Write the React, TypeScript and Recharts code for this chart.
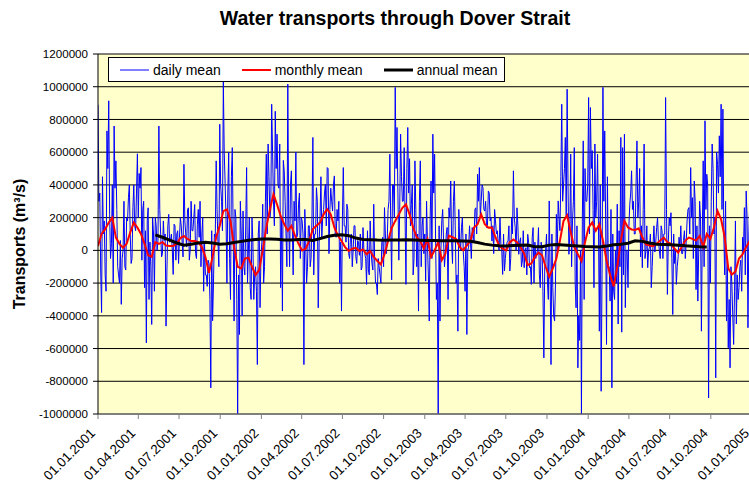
import React from 'react';
import { LineChart, Line, XAxis, YAxis, CartesianGrid } from 'recharts';

const chartTitle = 'Water transports through Dover Strait';
const yAxisTitle = 'Transports (m³/s)';

// x axis: days since 01.01.2001, quarterly ticks
const quarterDays = [0, 90, 181, 273, 365, 455, 546, 638, 730, 820, 911, 1003, 1095, 1186, 1277, 1369, 1461];
const quarterLabels = [
  '01.01.2001', '01.04.2001', '01.07.2001', '01.10.2001',
  '01.01.2002', '01.04.2002', '01.07.2002', '01.10.2002',
  '01.01.2003', '01.04.2003', '01.07.2003', '01.10.2003',
  '01.01.2004', '01.04.2004', '01.07.2004', '01.10.2004',
  '01.01.2005',
];
const yTicks = [-1000000, -800000, -600000, -400000, -200000, 0, 200000, 400000, 600000, 800000, 1000000, 1200000];

// values in thousands of m3/s
// daily mean, days 0, 4, 8, ...
const dailyStepDays = 4;
const dailyMean = [
  890, 350, -380, 100, -150, 730, 914, -50, 400, 760, 547, -100, -200, -330, 0, -100, 200, 322, 100, -50,
  400, 120, 590, 470, 506, 250, -228, -565, 260, 50, -453, 100, 200, 0, 760, 100, -20, 60, -463, 150,
  50, 100, -147, 150, 100, -80, 200, 50, 526, 100, 250, -60, 300, 120, 280, -50, 250, 300, 100, -250,
  -150, -220, -80, -840, -430, 100, 547, 50, 771, 300, 1030, 410, -200, 600, -300, 628, -432, 200, -1000, -514,
  100, 240, -150, 506, 0, -228, 200, -300, -100, -698, 180, -50, 282, -100, 588, 650, 200, 893, 300, 850,
  710, 380, -228, -371, 486, 100, 1016, -100, 486, -150, 180, 80, 282, -50, 180, -698, 50, -100, 150, -50,
  690, 100, 383, -351, 200, 80, 250, 404, 506, -20, 380, 240, 455, 80, 180, -200, -371, 506, 150, 282,
  -20, 80, -100, 150, -40, 60, -30, -120, 139, -20, -208, -120, 180, -80, 282, -200, -270, -100, -200, 80,
  261, -20, 250, 588, -180, 400, 996, 751, -60, 710, 300, 628, -208, 751, 560, 280, -150, 547, -100, -371,
  547, 150, -20, -188, 40, -432, 424, 710, 588, -300, -1000, -432, 180, 60, -20, 140, 260, 424, -80, 424,
  -200, -494, 50, 139, -10, -250, -514, 20, 57, 139, 57, 260, 465, 506, 300, 383, 240, 139, 363, 180,
  57, -20, 180, 120, 0, 37, -147, -126, 16, 57, -126, 200, 486, 139, 260, -24, 77, -65, -106, 16,
  98, -106, -208, 139, 50, -20, 139, -228, 0, -657, 0, -188, 302, -698, -228, -432, 220, 302, 120, 893,
  400, 690, 985, -24, 588, 180, 628, -351, -718, -550, -1000, 669, 500, 300, 934, 873, 610, -228, 200, 588,
  -494, -861, 996, 730, -575, -106, -310, -840, -250, 0, 282, 120, 690, 628, 710, 0, -228, 282, 486, 300,
  100, 669, 300, -40, -106, 650, 0, -106, 20, -228, 40, -10, 139, 60, -50, 120, 100, 934, -269, 200,
  230, -392, -80, -208, -40, 20, -20, 60, -50, 180, 261, 506, 322, 424, -240, -310, 300, -494, 547, 792,
  465, -902, -200, 650, 100, -779, 526, 700, 893, 863, -150, -432, -595, -718, -200, -575, 180, -150, -228, -60,
  80, 261, 363, -473, 300, 100,
];
// daily mean, days 2, 6, 10, ...
const dailyMidOffset = 2;
const dailyMeanMid = [
  300, -120, 450, 180, -250, 500, 220, 40, -200, 380, 250, -150, 60, -50, 300, -120, 180, 400, -80, 260, 150, 350, 200,
  380, -60, 300, 120, 180, -300, -100, 200, -250, 150, 60, 250, -40, 180, 100, -120, 220, 60, 0, 160, -60, 120, 80,
  150, -40, 180, 20, 260, 0, 120, 200, -20, 160, 80, -100, 200, 40, -150, -60, -300, 120, -200, 80, 250, -100,
  400, 120, 600, 200, 350, -50, 450, 100, 250, -300, -150, 300, -400, -100, 150, -200, 200, -300, 50, -150, -250, 100, -350,
  50, -200, 300, 100, 450, 250, 600, 150, 500, 400, 650, 200, 550, 300, -100, 200, 400, 150, 300, 600, 100, 350, 200,
  100, 250, -200, 150, -100, 200, -150, 100, 300, 50, 450, 200, 350, 150, 500, 250, 300, 400, 100, 250, 300, 50, 200,
  150, 50, 250, -50, 100, 0, 150, -80, 50, 100, -100, 0, -50, 120, -150, 0, -120, -60, -200, -50, -150, 50, -100,
  100, 50, 300, 150, 400, 200, 500, 350, 250, 450, 300, 200, 500, 350, 150, 400, -50, 250, 100, 300, -100, 200,
  100, 300, -150, 200, -50, 350, 100, -200, 150, 0, 250, -100, 100, -300, 200, 50, 300, 150, -150, 250, 0, 200, -100,
  100, 0, 150, -50, 100, 250, 100, 300, 200, 400, 250, 300, 150, 350, 200, 150, 250, 100, 50, 200, 0, 100, -50,
  50, 150, -50, 100, 200, 0, 150, 50, -100, 120, 0, -150, 50, -100, 80, -200, -50, 0, -150, 50, -250, -100, 100,
  -300, -150, 100, -400, -200, 0, 200, 450, 300, 500, 200, 400, 100, -100, 300, -200, 150, -400, 0, 200, -300, 300,
  400, 100, 500, 250, 650, 300, 150, 400, -150, 300, 200, 450, -100, 250, 100, -300, -200, -450, -100, -500, -150, -350, 0,
  150, 350, 250, 100, 400, 200, 500, 150, 250, -50, 150, 0, 100, -100, 150, 50, 200, 0, 150, -50, 100, 250, 50,
  150, -50, 100, 0, -100, 80, 150, -20, 120, 50, 250, 100, 200, -50, 300, 150, 0, 200, 100, -100, 250, 400, 150,
  300, 500, 200, 600, 350, 450, 250, 100, 300, -100, -300, -100, -400, -250, -450, -300, -100, -250, 0, -150, 200, 100, 400,
];

const monthlyStepDays = 8;
const monthlyMean = [
  27, 100, 130, 170, 200, 78, 40, 16, 40, 110, 170, 140, 100, 40, -30, -40, 50, 40, 50, 30,
  27, 27, 40, 75, 88, 70, 57, 57, 50, 20, -40, -137, -40, 80, 150, 240, 250, 180, 20, -100,
  -110, -50, -45, -100, -150, -120, 0, 140, 250, 343, 280, 210, 160, 120, 150, 90, 40, 0, 10, 60,
  130, 150, 170, 220, 251, 220, 140, 90, 57, 20, -4, 10, 16, -4, 6, -24, -4, -40, -65, -86,
  -24, 57, 137, 180, 220, 260, 281, 220, 139, 80, 57, 10, 70, -40, 0, 50, -60, -20, 90, 80,
  70, 20, 0, 30, 60, 139, 160, 220, 160, 139, 140, 80, 30, 10, 0, 50, 67, 50, 20, -20,
  -90, -80, -40, -14, -30, -100, -160, -110, -50, 60, 180, 214, 110, 20, -24, -65, 50, 140, 170, 120,
  159, 60, -60, -150, -220, -100, 60, 180, 140, 128, 125, 135, 80, 37, 30, 25, 40, 60, 78, 50,
  40, 10, -14, 20, 60, 78, 70, 60, 88, 20, 100, 70, 140, 240, 190, 80, -110, -147, -130, -50,
  -24, 20, 57,
];

const annualStartDay = 128;
const annualStepDays = 16;
const annualMean = [
  95, 80, 62, 45, 32, 38, 45, 50, 45, 38, 40, 48, 55, 62, 67, 70, 70, 68, 64, 63,
  66, 66, 60, 72, 85, 92, 95, 90, 75, 67, 65, 63, 62, 63, 64, 65, 64, 62, 60, 60,
  59, 58, 58, 57, 55, 48, 38, 32, 28, 27, 29, 31, 33, 22, 22, 32, 36, 33, 29, 27,
  24, 22, 20, 26, 34, 38, 44, 58, 55, 45, 38, 36, 34, 32, 28, 25, 22, 20,
];

const seriesInfo = [
  { key: 'daily', name: 'daily mean', color: '#0000FF', width: 1 },
  { key: 'monthly', name: 'monthly mean', color: '#FF0000', width: 2 },
  { key: 'annual', name: 'annual mean', color: '#000000', width: 3 },
];

type Row = { day: number; daily?: number; monthly?: number; annual?: number };
const rowMap = new Map<number, Row>();
const put = (day: number, key: 'daily' | 'monthly' | 'annual', v: number) => {
  const r = rowMap.get(day) ?? { day };
  r[key] = v * 1000;
  rowMap.set(day, r);
};
dailyMean.forEach((v, i) => put(i * dailyStepDays, 'daily', v));
dailyMeanMid.forEach((v, i) => put(dailyMidOffset + i * dailyStepDays, 'daily', v));
monthlyMean.forEach((v, i) => put(i * monthlyStepDays, 'monthly', v));
annualMean.forEach((v, i) => put(annualStartDay + i * annualStepDays, 'annual', v));
const data = Array.from(rowMap.values()).sort((a, b) => a.day - b.day);

const FONT = "Arial, 'Liberation Sans', sans-serif";

const XTick = (props: any) => {
  const { x, y, payload } = props;
  const idx = quarterDays.indexOf(payload.value);
  return (
    <g transform={`translate(${x - 2},${y + 13})`}>
      <text x={0} y={0} textAnchor="end" transform="rotate(-45)" fontSize={13.3} fill="#000" fontFamily={FONT}>
        {quarterLabels[idx]}
      </text>
    </g>
  );
};

export default function App() {
  return (
    <div style={{ position: 'absolute', left: 0, top: 0, width: 749, height: 490, overflow: 'hidden', background: '#fff', fontFamily: FONT }}>
      <LineChart width={800} height={490} data={data} margin={{ top: 54, right: 48, bottom: 0, left: 0 }}>
        <CartesianGrid vertical={false} stroke="#000" fill="#FFFFCC" fillOpacity={1} />
        <XAxis
          type="number"
          dataKey="day"
          domain={[0, 1461]}
          ticks={quarterDays}
          interval={0}
          height={76}
          tickSize={5}
          tickMargin={2}
          tick={<XTick />}
          axisLine={{ stroke: '#808080' }}
          tickLine={{ stroke: '#808080' }}
          allowDataOverflow
        />
        <YAxis
          type="number"
          domain={[-1000000, 1200000]}
          ticks={yTicks}
          interval={0}
          width={98}
          tickSize={5}
          tickMargin={5}
          tick={{ fill: '#000', fontSize: 11.6, fontFamily: FONT }}
          axisLine={{ stroke: '#000' }}
          tickLine={{ stroke: '#000' }}
          allowDataOverflow
        />
        {seriesInfo.map((s) => (
          <Line
            key={s.key}
            type="linear"
            dataKey={s.key}
            name={s.name}
            stroke={s.color}
            strokeWidth={s.width}
            dot={false}
            activeDot={false}
            connectNulls
            isAnimationActive={false}
          />
        ))}
      </LineChart>
      <svg width={749} height={490} style={{ position: 'absolute', left: 0, top: 0, pointerEvents: 'none' }}>
        <text x={395} y={25} textAnchor="middle" fontSize={19.5} fontWeight="bold" fill="#000" fontFamily={FONT}>
          {chartTitle}
        </text>
        <text x={25} y={244} textAnchor="middle" fontSize={16} fontWeight="bold" fill="#000" fontFamily={FONT} transform="rotate(-90, 25, 244)">
          {yAxisTitle}
        </text>
      </svg>
      <div
        style={{
          position: 'absolute', left: 108, top: 57, width: 397, height: 25, boxSizing: 'border-box',
          border: '1px solid #000', background: '#fff', display: 'flex', alignItems: 'center', paddingLeft: 11,
          gap: 21, fontSize: 14, color: '#000', whiteSpace: 'nowrap',
        }}
      >
        {seriesInfo.map((s) => (
          <div key={s.key} style={{ display: 'flex', alignItems: 'center', gap: 4 }}>
            <svg width={29} height={6}>
              <line x1={0} y1={3} x2={29} y2={3} stroke={s.color} strokeWidth={s.width} />
            </svg>
            <span>{s.name}</span>
          </div>
        ))}
      </div>
    </div>
  );
}
